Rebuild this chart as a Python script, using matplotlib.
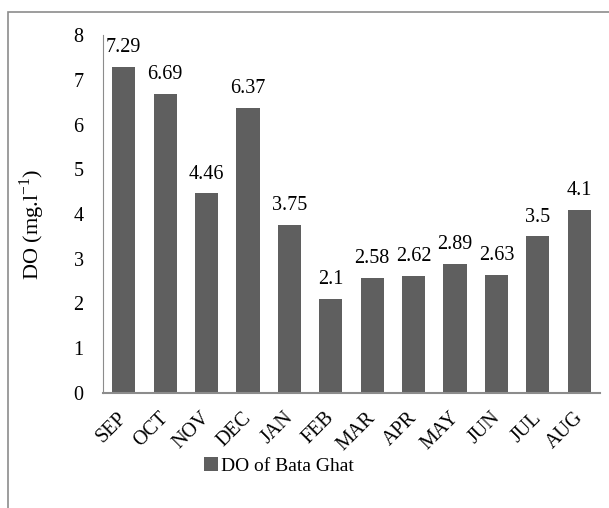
import matplotlib.pyplot as plt
from matplotlib.patches import Rectangle
from matplotlib.transforms import ScaledTranslation

months = ["SEP", "OCT", "NOV", "DEC", "JAN", "FEB",
          "MAR", "APR", "MAY", "JUN", "JUL", "AUG"]
do_values = [7.29, 6.69, 4.46, 6.37, 3.75, 2.1,
             2.58, 2.62, 2.89, 2.63, 3.5, 4.1]
value_labels = ["7.29", "6.69", "4.46", "6.37", "3.75", "2.1",
                "2.58", "2.62", "2.89", "2.63", "3.5", "4.1"]
y_ticks = [0, 1, 2, 3, 4, 5, 6, 7, 8]

plt.rcParams["font.family"] = ["Liberation Serif", "DejaVu Serif"]
plt.rcParams["mathtext.fontset"] = "custom"
plt.rcParams["mathtext.rm"] = "Liberation Serif"

W, H = 609, 508
fig = plt.figure(figsize=(W / 100, H / 100), dpi=100)

# outer chart frame (cut off on right and bottom like the reference)
fig.patches.append(Rectangle((8 / W, -0.1), 1.2, (H - 12) / H + 0.1,
                             transform=fig.transFigure, fill=False,
                             edgecolor="#8c8c8c", linewidth=1.2))

ax = fig.add_axes([103 / W, (H - 393) / H, (600 - 103) / W, (393 - 35) / H])
x = range(len(months))
bars = ax.bar(x, do_values, width=0.56, color="#5f5f5f", label="DO of Bata Ghat")

for xi, v, lab in zip(x, do_values, value_labels):
    ax.text(xi, v + 0.22, lab, ha="center", va="bottom", fontsize=14.5)

ax.set_xlim(-0.5, len(months) - 0.5)
ax.set_ylim(0, 8)
ax.set_yticks(y_ticks)
ax.set_yticklabels([str(t) for t in y_ticks], fontsize=14.5)
ax.set_xticks(list(x))
ax.set_xticklabels(months, rotation=45, ha="right",
                   rotation_mode="anchor", fontsize=14.5)
ax.tick_params(axis="both", length=0)
ax.tick_params(axis="y", pad=14)
ax.tick_params(axis="x", pad=6)
# nudge rotated month labels so their upper end sits just under each bar
shift = ScaledTranslation(-6 / 100, -7 / 100, fig.dpi_scale_trans)
for lbl in ax.get_xticklabels():
    lbl.set_transform(lbl.get_transform() + shift)

for side in ["top", "right"]:
    ax.spines[side].set_visible(False)
ax.spines["left"].set_color("#8c8c8c")
ax.spines["bottom"].set_color("#8c8c8c")
ax.spines["bottom"].set_linewidth(1.5)

ax.set_ylabel(r"DO (mg.l$^{\mathregular{-1}}$)", fontsize=16)
ax.yaxis.set_label_coords(-56 / (600 - 103), 0.47)

fig.legend(handles=[bars], labels=["DO of Bata Ghat"], loc="center",
           bbox_to_anchor=(279 / W, (H - 466) / H), frameon=False,
           fontsize=14, handlelength=0.7, handleheight=0.7, handletextpad=0.15)

fig.savefig("out.png", dpi=100)
